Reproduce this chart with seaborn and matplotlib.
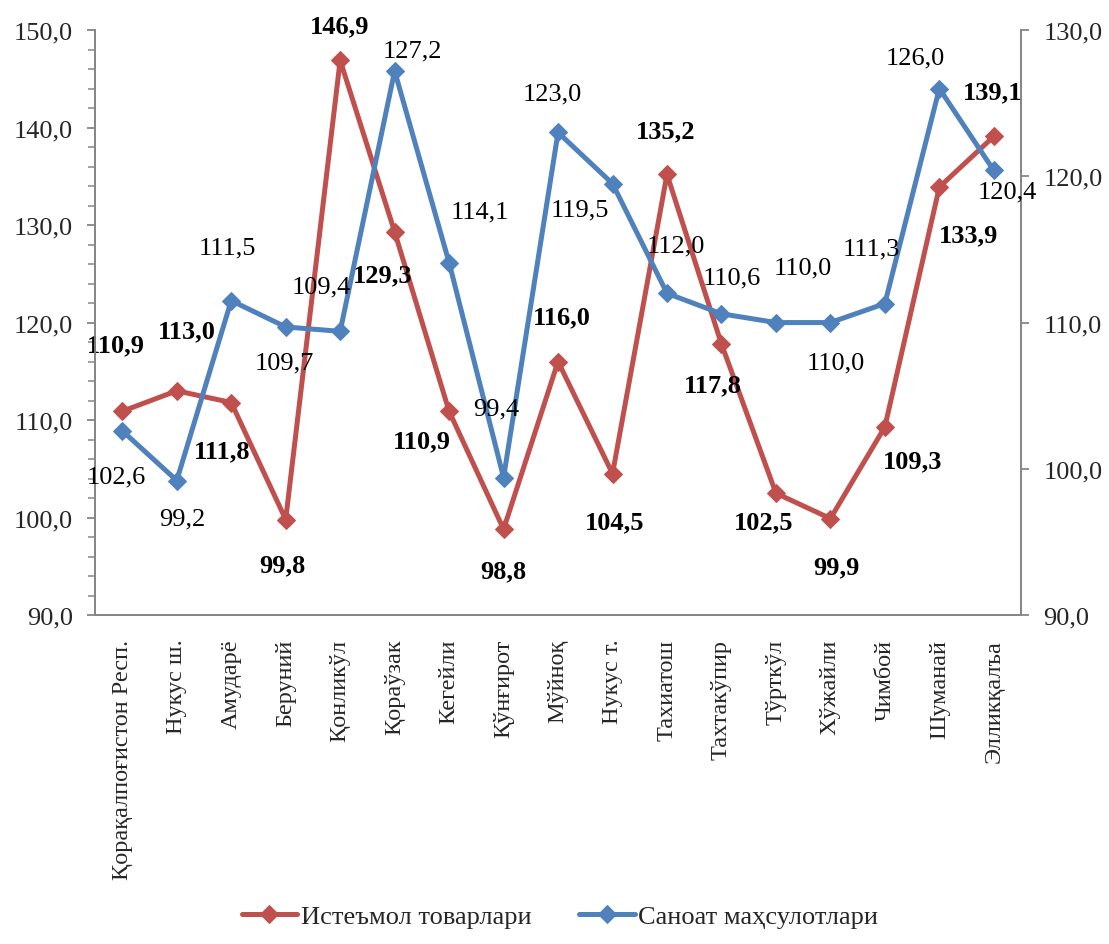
import numpy as np
import pandas as pd
import matplotlib
matplotlib.use('Agg')
import matplotlib.pyplot as plt
import seaborn as sns
from matplotlib.ticker import FixedLocator, MultipleLocator, FuncFormatter

# ── данные ──
hududlar = ["Қорақалпоғистон Респ.", "Нукус ш.", "Амударё", "Беруний", "Қонликўл",
            "Қораўзак", "Кегейли", "Қўнғирот", "Мўйноқ", "Нукус т.", "Тахиатош",
            "Тахтакўпир", "Тўрткўл", "Хўжайли", "Чимбой", "Шуманай", "Элликқалъа"]
istemol = [110.9, 113.0, 111.8, 99.8, 146.9, 129.3, 110.9, 98.8, 116.0, 104.5,
           135.2, 117.8, 102.5, 99.9, 109.3, 133.9, 139.1]
sanoat = [102.6, 99.2, 111.5, 109.7, 109.4, 127.2, 114.1, 99.4, 123.0, 119.5,
          112.0, 110.6, 110.0, 110.0, 111.3, 126.0, 120.4]

# смещения подписей (в пикселях)
off_red = [(-6, 66), (10, 60), (-9, -48), (-3, -45), (-1, 35), (-12, -43), (-27, -30),
           (0, -42), (4, 45), (2, -48), (-1, 44), (-9, -41), (-12, -29), (6, -48),
           (28, -34), (29, -48), (-1, 45)]
off_blu = [(-6, -46), (6, -38), (-4, 53), (-1, -35), (-19, 45), (18, 21), (31, 51),
           (-7, 69), (-6, 39), (-33, -26), (9, 48), (10, 36), (27, 55), (5, -40),
           (-14, 55), (-24, 31), (13, -21)]

df = pd.DataFrame({"x": np.arange(len(hududlar)), "ist": istemol, "san": sanoat})

sns.set_style("white")
plt.rcParams['font.family'] = ['Liberation Serif', 'DejaVu Serif']

RED = "#C0504D"
BLUE = "#4F81BD"
GREY = "#868686"
FS = 19

fig = plt.figure(figsize=(11.09, 9.45), dpi=100)
ax = fig.add_axes([0.0857, 0.3481, 0.835, 0.619])
ax2 = ax.twinx()

sns.lineplot(data=df, x="x", y="ist", ax=ax, color=RED, lw=3.6, marker="D",
             markersize=9.5, markeredgecolor=RED, sort=False, label="Истеъмол товарлари",
             legend=False)
sns.lineplot(data=df, x="x", y="san", ax=ax2, color=BLUE, lw=3.6, marker="D",
             markersize=9.5, markeredgecolor=BLUE, sort=False, label="Саноат маҳсулотлари",
             legend=False)

n = len(hududlar)
ax.set_xlim(-0.5, n - 0.5)
ax.set_ylim(90, 150)
ax2.set_ylim(90, 130)
ax.set_yticks(np.arange(90, 151, 10))
ax.yaxis.set_minor_locator(MultipleLocator(2))
ax2.set_yticks(np.arange(90, 131, 10))
fmt = FuncFormatter(lambda v, p: f"{v:.1f}".replace(".", ","))
ax.yaxis.set_major_formatter(fmt)
ax2.yaxis.set_major_formatter(fmt)

ax.set_xticks(np.arange(n))
ax.set_xticklabels(hududlar, rotation=90, fontsize=17.5)
ax.xaxis.set_minor_locator(FixedLocator(np.arange(-0.5, n, 1.0)))
ax.tick_params(axis="x", which="major", length=0, pad=17)
ax.tick_params(axis="x", which="minor", length=6, color=GREY, width=1.3, direction="out")
ax.tick_params(axis="y", which="major", length=6, color=GREY, width=1.3, labelsize=FS,
               direction="out", pad=10)
ax.tick_params(axis="y", which="minor", length=5, color=GREY, width=1.1, direction="out")
ax2.tick_params(axis="y", length=6, color=GREY, width=1.3, labelsize=FS, direction="out",
                pad=10)
ax.set_xlabel("")
ax.set_ylabel("")
ax2.set_ylabel("")

for a in (ax, ax2):
    a.spines["top"].set_visible(False)
    for s in ("left", "right", "bottom"):
        a.spines[s].set_color(GREY)
        a.spines[s].set_linewidth(1.3)
    a.grid(False)

for i, (v, o) in enumerate(zip(istemol, off_red)):
    ax.annotate(f"{v:.1f}".replace(".", ","), (i, v), xytext=o, textcoords="offset pixels",
                ha="center", va="center", fontsize=FS, fontweight="bold", color="black")
for i, (v, o) in enumerate(zip(sanoat, off_blu)):
    ax2.annotate(f"{v:.1f}".replace(".", ","), (i, v), xytext=o, textcoords="offset pixels",
                 ha="center", va="center", fontsize=FS, color="black")

h1, l1 = ax.get_legend_handles_labels()
h2, l2 = ax2.get_legend_handles_labels()
fig.legend(h1 + h2, l1 + l2, loc="center", bbox_to_anchor=(0.505, 0.029), ncol=2,
           frameon=False, fontsize=19, handlelength=2.1, columnspacing=1.8,
           handletextpad=0.15)

fig.savefig("out.png", dpi=100)
